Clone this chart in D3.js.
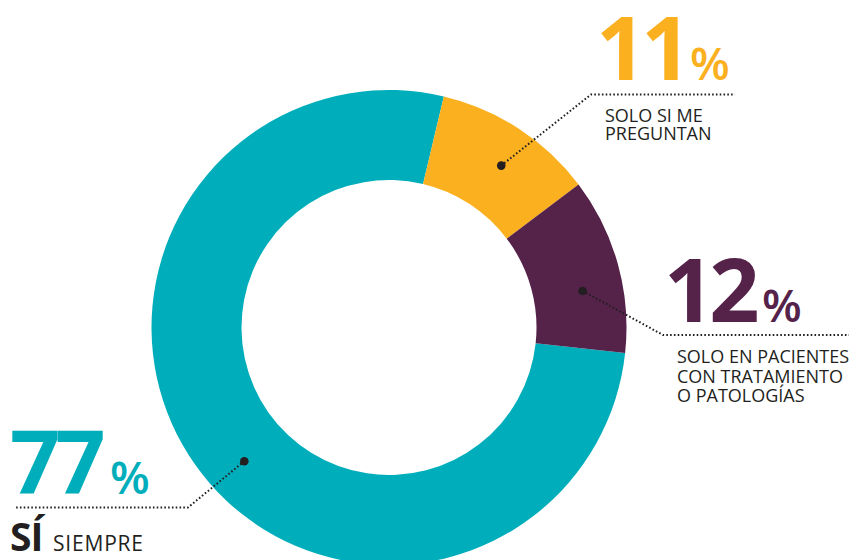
<!DOCTYPE html>
<html lang="es">
<head>
<meta charset="utf-8">
<title>Donut</title>
<style>
  html, body { margin:0; padding:0; background:#fff; }
  svg { display:block; }
  text { font-family:"Open Sans", sans-serif; }
  .big { font-weight:700; font-size:88px; letter-spacing:-5px; }
  .pct { font-weight:600; font-size:46px; }
  .lbl { font-size:18px; fill:#231f20; }
  .si { font-weight:700; font-size:39px; letter-spacing:-1px; fill:#231f20; }
  .siempre { font-size:21px; letter-spacing:0.8px; fill:#231f20; }
  .leader { fill:none; stroke:#231f20; stroke-width:2; stroke-dasharray:1.6 2.2; }
</style>
</head>
<body>
<svg id="chart"></svg>
<script src="https://cdnjs.cloudflare.com/ajax/libs/d3/7.8.5/d3.min.js"></script>
<script>
// data
var categories = ["SÍ SIEMPRE", "SOLO SI ME PREGUNTAN", "SOLO EN PACIENTES CON TRATAMIENTO O PATOLOGÍAS"];
var values = [77, 11, 12];
var colors = ["#00aebb", "#fab01f", "#55224a"];

// label layout (one per slice)
var labelLines = [
  [],
  ["SOLO SI ME", "PREGUNTAN"],
  ["SOLO EN PACIENTES", "CON TRATAMIENTO", "O PATOLOGÍAS"]
];
var layout = [
  {frac:0.473, elbow:[188, 507.5], end:15,  numX:10,  numY:494, pctX:110, lineX:15,  lineY:[]},
  {frac:0.54,  elbow:[591, 94.5],  end:735, numX:596, numY:80,  pctX:690, lineX:605, lineY:[121.5, 140]},
  {frac:0.61,  elbow:[663, 335],   end:849, numX:664, numY:322, pctX:762, lineX:677, lineY:[363, 382.5, 402]}
];

var W = 849, H = 560;
var cx = 389, cy = 327.5, outerR = 237.5, innerR = 147.5;

var svg = d3.select("#chart").attr("width", W).attr("height", H);
var g = svg.append("g").attr("transform", "translate(" + cx + "," + cy + ")");

var a0 = 96.15 * Math.PI / 180;
var pie = d3.pie().sort(null).startAngle(a0).endAngle(a0 + 2 * Math.PI);
var arcs = pie(values);
var arc = d3.arc().innerRadius(innerR).outerRadius(outerR);

g.selectAll("path.slice")
  .data(arcs)
  .enter().append("path")
  .attr("class", "slice")
  .attr("d", arc)
  .attr("fill", function(d, i){ return colors[i]; });

// anchor dots + leader lines
var anchorR = 197;
arcs.forEach(function(d, i){
  var L = layout[i];
  var a = d.startAngle + (d.endAngle - d.startAngle) * L.frac;
  var px = cx + anchorR * Math.sin(a), py = cy - anchorR * Math.cos(a);
  svg.append("path")
    .attr("class", "leader")
    .attr("d", d3.line()([[px, py], L.elbow, [L.end, L.elbow[1]]]));
  svg.append("circle")
    .attr("cx", px).attr("cy", py).attr("r", 4.3)
    .attr("fill", "#231f20");

  svg.append("text")
    .attr("class", "big")
    .attr("x", L.numX).attr("y", L.numY)
    .attr("fill", colors[i])
    .text(values[i]);
  svg.append("text")
    .attr("class", "pct")
    .attr("x", L.pctX).attr("y", L.numY)
    .attr("fill", colors[i])
    .text("%");

  labelLines[i].forEach(function(t, j){
    svg.append("text")
      .attr("class", "lbl")
      .attr("x", L.lineX).attr("y", L.lineY[j])
      .text(t);
  });
});

// "SÍ SIEMPRE" label
var parts = categories[0].split(" ");
svg.append("text").attr("class", "si")
  .attr("x", 10).attr("y", 551)
  .text(parts[0]);
svg.append("text").attr("class", "siempre")
  .attr("x", 53).attr("y", 551)
  .text(parts[1]);
</script>
</body>
</html>
